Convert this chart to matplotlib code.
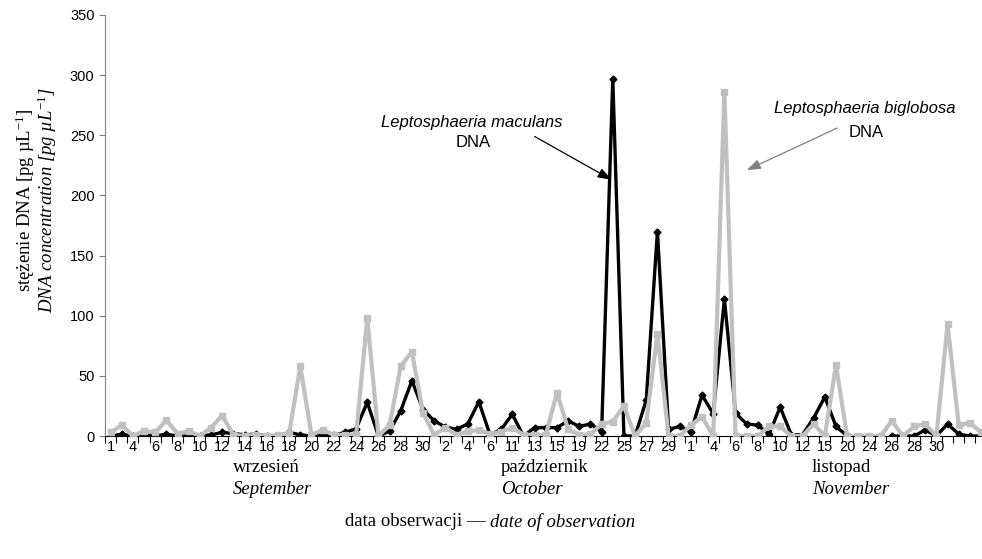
import numpy as np
import matplotlib
matplotlib.use("Agg")
import matplotlib.pyplot as plt

plt.rcParams["font.family"] = ["Liberation Sans", "DejaVu Sans"]
plt.rcParams["mathtext.fontset"] = "custom"
plt.rcParams["mathtext.rm"] = "Liberation Serif"
plt.rcParams["mathtext.it"] = "Liberation Serif:italic"

# observation dates shown on the axis (every second category is labelled)
tick_labels = ["1", "4", "6", "8", "10", "12", "14", "16", "18", "20", "22", "24", "26", "28", "30",
               "2", "4", "6", "11", "13", "15", "19", "22", "25", "27", "29",
               "1", "4", "6", "8", "10", "12", "15", "20", "24", "26", "28", "30"]
months_pl = ["wrzesień", "październik", "listopad"]
months_en = ["September", "October", "November"]

nan = np.nan
# Leptosphaeria maculans DNA [pg/uL]
maculans = [0, 1.5, 0, 1, 0, 1.5, 0, 0, 0, 1, 3, 2, 1, 1.5, 0, 0, 3, 1, 0, 1,
            0.5, 3, 6, 28, 0, 4, 21, 46, 22, 12.5, 7.5, 5.5, 10, 28.5, 1, 5.5, 18, 0, 7, 7,
            7, 12.5, 8, 10, 3.5, 297, 0, 0, 30, 170, 5.5, 8, 3.5, 34, 18.5, 114, 19, 10, 9, 1.5,
            24, 1, 1, 15, 32.5, 8, 0, nan, nan, nan, 0, 0, 0, 5, 0, 10, 1.5, 0, 0]
# Leptosphaeria biglobosa DNA [pg/uL]
biglobosa = [3, 9, 0, 4, 3, 13, 2, 4, 0, 7, 17, 1, 0, 1, 0, 1, 2, 58, 1, 5,
             1, 1, 1, 98, 0, 9, 58, 70, 19, 1, 7, 1, 4, 5, 1.5, 3.5, 7, 1, 1, 1,
             36, 5.5, 1, 1.5, 10, 12, 25, 0, 11, 85, 0, 0, 9, 16, 0, 286, 0, 0, 0, 8,
             8, 0, 0, 10, 0, 59, 0, 0, 0, 0, 12.5, 0, 8, 10, 0, 93, 9, 11, 3]

n = len(maculans)
x = np.arange(n)

W, H = 982, 559
fig = plt.figure(figsize=(W / 100, H / 100), dpi=100)
ax = fig.add_axes([105 / W, 1 - 436 / H, (n * 11.16) / W, 421 / H])

ax.plot(x, maculans, color="black", lw=2.4, marker="D", ms=3.5, zorder=2)
ax.plot(x, biglobosa, color="#c0c0c0", lw=3.0, marker="s", ms=5, zorder=3)

ax.set_xlim(-0.5, n - 0.5)
ax.set_ylim(0, 350)
ax.set_yticks(np.arange(0, 351, 50))

ax.set_xticks(np.arange(-0.5, n, 1))
ax.set_xticklabels([])
ax.set_xticks(np.arange(0, 2 * len(tick_labels), 2), minor=True)
ax.set_xticklabels(tick_labels, minor=True)
ax.tick_params(axis="x", which="major", length=5, direction="out", width=0.8)
ax.tick_params(axis="x", which="minor", length=0, pad=3, labelsize=10.5)
ax.tick_params(axis="y", length=4, direction="out", labelsize=10.5, color="#808080")

for s in ["top", "right"]:
    ax.spines[s].set_visible(False)
ax.spines["left"].set_color("#808080")
ax.spines["bottom"].set_color("black")
ax.patch.set_alpha(0)

# annotations
ax.text(32.4, 261, "Leptosphaeria maculans", style="italic", fontsize=12, ha="center", va="center")
ax.text(32.5, 243.6, "DNA", fontsize=12, ha="center", va="center")
ax.annotate("", xy=(44.9, 213), xytext=(38.0, 249),
            arrowprops=dict(arrowstyle="-|>,head_length=0.7,head_width=0.25", color="black",
                            lw=0.9, mutation_scale=12, shrinkA=0, shrinkB=0))
ax.text(67.6, 272.6, "Leptosphaeria biglobosa", style="italic", fontsize=12, ha="center", va="center")
ax.text(67.7, 252.7, "DNA", fontsize=12, ha="center", va="center")
ax.annotate("", xy=(57.0, 221), xytext=(65.1, 256),
            arrowprops=dict(arrowstyle="-|>,head_length=0.7,head_width=0.25", color="#808080",
                            lw=0.9, mutation_scale=12, shrinkA=0, shrinkB=0))

# axis titles
serif = ["Liberation Serif", "DejaVu Serif"]
fig.text(25 / W, 1 - 200 / H, r"stężenie DNA [pg µL$^{-1}$]", family=serif, fontsize=13.5,
         rotation=90, ha="center", va="center")
fig.text(47 / W, 1 - 200 / H, r"DNA concentration [pg µL$^{-1}$]", family=serif, fontsize=13.5,
         style="italic", rotation=90, ha="center", va="center")

for px, pl, en in zip([233, 501, 812], months_pl, months_en):
    fig.text(px / W, 1 - 467 / H, pl, family=serif, fontsize=13.5, ha="left", va="center")
    fig.text(px / W, 1 - 489 / H, en, family=serif, fontsize=13.5, style="italic", ha="left", va="center")

# bottom title: regular part + italic part, centred as a whole
fig.canvas.draw()
r = fig.canvas.get_renderer()
t1 = fig.text(0, 1 - 522 / H, "data obserwacji — ", family=serif, fontsize=13.5, ha="left", va="center")
t2 = fig.text(0, 1 - 522 / H, "date of observation", family=serif, fontsize=13.5, style="italic",
              ha="left", va="center")
w1 = t1.get_window_extent(r).width
w2 = t2.get_window_extent(r).width
x0 = 490 - (w1 + w2) / 2
t1.set_x(x0 / W)
t2.set_x((x0 + w1) / W)

fig.savefig("out.png", dpi=100)
